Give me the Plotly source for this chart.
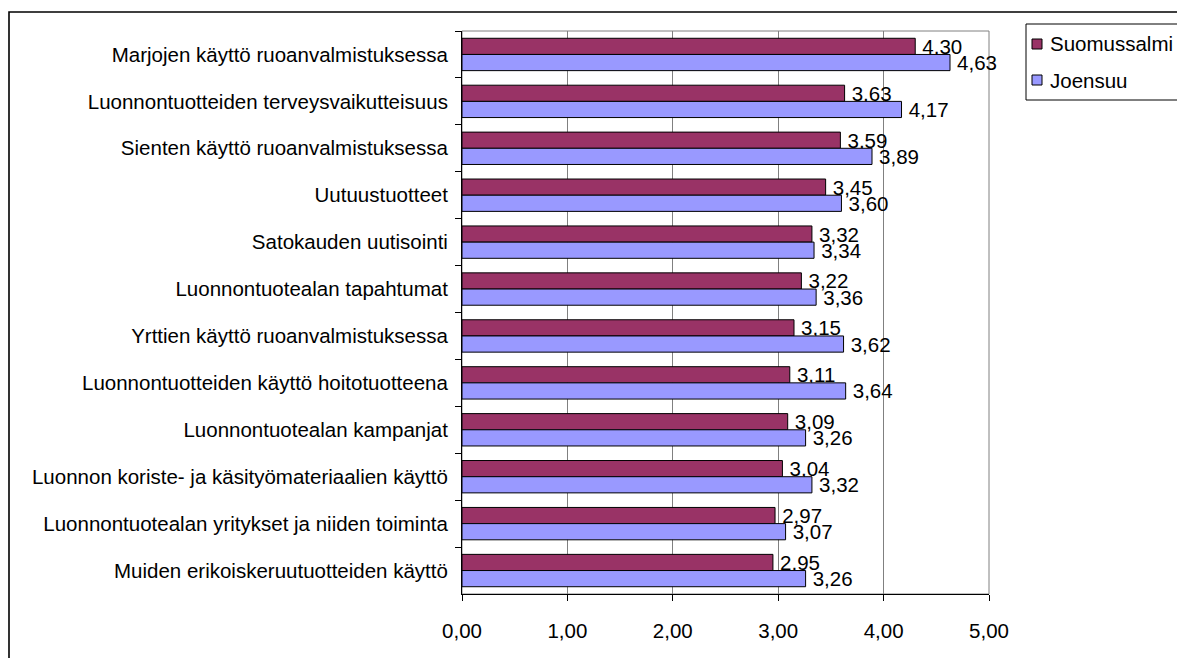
import plotly.graph_objects as go

# Survey topics (top to bottom) and mean interest scores per town
topics = [
    "Marjojen käyttö ruoanvalmistuksessa",
    "Luonnontuotteiden terveysvaikutteisuus",
    "Sienten käyttö ruoanvalmistuksessa",
    "Uutuustuotteet",
    "Satokauden uutisointi",
    "Luonnontuotealan tapahtumat",
    "Yrttien käyttö ruoanvalmistuksessa",
    "Luonnontuotteiden käyttö hoitotuotteena",
    "Luonnontuotealan kampanjat",
    "Luonnon koriste- ja käsityömateriaalien käyttö",
    "Luonnontuotealan yritykset ja niiden toiminta",
    "Muiden erikoiskeruutuotteiden käyttö",
]
suomussalmi = [4.30, 3.63, 3.59, 3.45, 3.32, 3.22, 3.15, 3.11, 3.09, 3.04, 2.97, 2.95]
joensuu = [4.63, 4.17, 3.89, 3.60, 3.34, 3.36, 3.62, 3.64, 3.26, 3.32, 3.07, 3.26]
x_ticks = [0, 1, 2, 3, 4, 5]

series_names = ["Suomussalmi", "Joensuu"]
series_colors = ["#993366", "#9999FF"]

FONT = "Liberation Sans, Arial, sans-serif"
FS = 20.5

fig = go.Figure()
for name, vals, col in zip(series_names, [suomussalmi, joensuu], series_colors):
    fig.add_trace(go.Bar(
        y=topics, x=vals, name=name, orientation="h",
        marker=dict(color=col, line=dict(color="black", width=1)),
        texttemplate="\u2009%{x:.2f}", textposition="outside",
        constraintext="none", cliponaxis=False,
        textfont=dict(family=FONT, size=FS, color="black"),
        showlegend=False,
    ))

# plot-area geometry in pixels (used for paper-coordinate conversions)
W, H = 1177, 658
L, R, T, B = 462, 989, 31, 594
pw, ph = R - L, B - T


def px(x):
    return (x - L) / pw


def py(y):
    return (B - y) / ph


shapes = [
    # grey plot-area frame
    dict(type="rect", xref="paper", yref="paper", x0=0, x1=1, y0=0, y1=1,
         line=dict(color="#808080", width=1), layer="below"),
    # outer chart border
    dict(type="rect", xref="paper", yref="paper", x0=px(9), x1=px(1300),
         y0=py(800), y1=py(12), line=dict(color="black", width=1.6)),
    # legend box
    dict(type="rect", xref="paper", yref="paper", x0=px(1026), x1=px(1260),
         y0=py(100), y1=py(24), line=dict(color="black", width=1),
         fillcolor="white"),
]
annotations = []
for i, (name, col) in enumerate(zip(series_names, series_colors)):
    cy = 44 + i * 36
    shapes.append(dict(type="rect", xref="paper", yref="paper",
                       x0=px(1032), x1=px(1042), y0=py(cy + 5), y1=py(cy - 5),
                       fillcolor=col, line=dict(color="black", width=1)))
    annotations.append(dict(xref="paper", yref="paper", x=px(1048), y=py(cy),
                            text=name, showarrow=False, xanchor="left",
                            yanchor="middle",
                            font=dict(family=FONT, size=FS, color="black")))

fig.update_layout(
    width=W, height=H,
    margin=dict(l=L, r=W - R, t=T, b=H - B, pad=0),
    paper_bgcolor="white", plot_bgcolor="white",
    barmode="group", bargap=0.31, bargroupgap=0,
    separators=", ",
    font=dict(family=FONT, size=FS, color="black"),
    shapes=shapes, annotations=annotations,
    showlegend=False,
    xaxis=dict(range=[0, 5], tickvals=x_ticks, tickformat=".2f",
               showgrid=True, gridcolor="#808080", gridwidth=1,
               showline=True, linecolor="black", linewidth=1,
               ticks="outside", ticklen=6, tickcolor="black",
               ticklabelstandoff=12, zeroline=False, fixedrange=True),
    yaxis=dict(categoryorder="array", categoryarray=topics,
               autorange="reversed", tickson="boundaries",
               showline=True, linecolor="black", linewidth=1,
               ticks="outside", ticklen=6, tickcolor="black",
               ticklabelstandoff=9, showgrid=False, fixedrange=True),
)

fig.write_html("out.html")
